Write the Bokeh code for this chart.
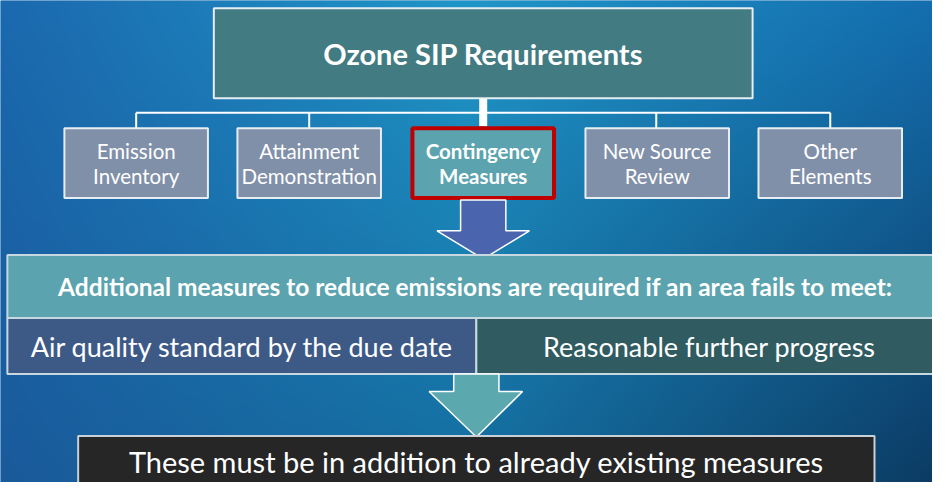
import numpy as np
from bokeh.plotting import figure
from bokeh.models import Range1d
from bokeh.core.properties import value
from bokeh.embed import file_html
from bokeh.resources import INLINE

W, H = 948, 498

# ---------------- content ----------------
title_text = "Ozone SIP Requirements"
child_line1 = ["Emission", "Attainment", "Contingency", "New Source", "Other"]
child_line2 = ["Inventory", "Demonstration", "Measures", "Review", "Elements"]
middle_text = "Additional measures to reduce emissions are required if an area fails to meet:"
row_texts = ["Air quality standard by the due date", "Reasonable further progress"]
bottom_text = "These must be in addition to already existing measures"

# ---------------- layout (reference pixel space) ----------------
title_box = dict(left=[217], right=[765], top=[8], bottom=[101])
child_left = [65, 241, 419, 595, 771]
child_right = [211, 387, 563, 741, 917]
child_top, child_bottom = 132, 204
tick_x = [138, 314, 667, 844]
bus_y = 116
mid_box = dict(left=[7], right=[950], top=[263], bottom=[328])
row_left = [7, 484]
row_right = [484, 950]
row_top, row_bottom = 328, 386
bottom_box = dict(left=[79], right=[889], top=[450], bottom=[505])

arrow1_x = [468, 514, 514, 538, 491, 444, 468]
arrow1_y = [206, 206, 238, 238, 267, 238, 238]
arrow2_x = [461, 507, 507, 531, 484, 436, 461]
arrow2_y = [386, 386, 404, 404, 451, 404, 404]

p = figure(width=932, height=482, x_range=Range1d(0, W), y_range=Range1d(H, 0),
           output_backend="svg", toolbar_location=None, min_border=0)
p.axis.visible = False
p.grid.visible = False
p.outline_line_color = None
p.background_fill_color = "#1a6fb0"

# ---------------- background gradient ----------------
ny, nx = 166, 316
yy, xx = np.mgrid[0:ny, 0:nx]
u = xx / (nx - 1)
v = yy / (ny - 1)
c_tl = np.array([27, 105, 175])
c_tc = np.array([32, 150, 200])
c_tr = np.array([20, 110, 175])
c_bl = np.array([26, 90, 155])
c_bc = np.array([20, 110, 160])
c_br = np.array([12, 60, 100])
def lerp3(a, b, c, t):
    t = t[..., None]
    left = a + (b - a) * np.clip(t * 2, 0, 1)
    right = b + (c - b) * np.clip(t * 2 - 1, 0, 1)
    return np.where(t < 0.5, left, right)
top = lerp3(c_tl, c_tc, c_tr, u)
bot = lerp3(c_bl, c_bc, c_br, u)
rgb = top + (bot - top) * v[..., None]
img = np.zeros((ny, nx), dtype=np.uint32)
view = img.view(dtype=np.uint8).reshape((ny, nx, 4))
view[..., 0] = rgb[..., 0].astype(np.uint8)
view[..., 1] = rgb[..., 1].astype(np.uint8)
view[..., 2] = rgb[..., 2].astype(np.uint8)
view[..., 3] = 255
p.image_rgba(image=[img], x=0, y=0, dw=W, dh=H)

border = "#e6edf3"
font = value("Lato")

# ---------------- connectors ----------------
p.segment(x0=[tick_x[0]], y0=[bus_y], x1=[tick_x[-1]], y1=[bus_y], line_color="white", line_width=2)
p.segment(x0=tick_x, y0=[bus_y] * 4, x1=tick_x, y1=[child_top] * 4, line_color="white", line_width=2)
p.segment(x0=[491], y0=[101], x1=[491], y1=[130], line_color="white", line_width=8)

# ---------------- boxes ----------------
p.quad(**title_box, fill_color="#437b83", line_color=border, line_width=2)
child_fill = ["#8190a9", "#8190a9", "#5ba3ae", "#8190a9", "#8190a9"]
child_line = [border, border, "#c00000", border, border]
child_lw = [2, 2, 4, 2, 2]
p.quad(left=child_left, right=child_right, top=[child_top] * 5, bottom=[child_bottom] * 5,
       fill_color=child_fill, line_color=child_line, line_width=child_lw)

p.patch(arrow1_x, arrow1_y, fill_color="#4a64ae", line_color="white", line_width=1.5)

p.quad(**mid_box, fill_color="#5ba3ae", line_color="#c8d8e0", line_width=2)
p.quad(left=row_left, right=row_right, top=[row_top] * 2, bottom=[row_bottom] * 2,
       fill_color=["#3d5a87", "#2f5b61"], line_color="#c8d8e0", line_width=2)

p.patch(arrow2_x, arrow2_y, fill_color="#5ba8af", line_color="white", line_width=1.5)
p.quad(**bottom_box, fill_color="#262626", line_color="#c8d0d8", line_width=2)

# ---------------- texts ----------------
p.text(x=[491], y=[55], text=[title_text], text_font=font, text_font_style="bold",
       text_font_size="29px", text_color="white", text_align="center", text_baseline="middle")
cx = [(a + b) / 2 for a, b in zip(child_left, child_right)]
styles = ["normal", "normal", "bold", "normal", "normal"]
for i in range(5):
    p.text(x=[cx[i]], y=[155], text=[child_line1[i]], text_font=font, text_font_style=styles[i],
           text_font_size="20.5px", text_color="white", text_align="center", text_baseline="middle")
    p.text(x=[cx[i]], y=[181], text=[child_line2[i]], text_font=font, text_font_style=styles[i],
           text_font_size="20.5px", text_color="white", text_align="center", text_baseline="middle")
p.text(x=[483], y=[296], text=[middle_text], text_font=font, text_font_style="bold",
       text_font_size="24.5px", text_color="white", text_align="center", text_baseline="middle")
p.text(x=[246, 721], y=[357, 357], text=row_texts, text_font=font,
       text_font_size="27px", text_color="white", text_align="center", text_baseline="middle")
p.text(x=[484], y=[476], text=[bottom_text], text_font=font,
       text_font_size="29px", text_color="white", text_align="center", text_baseline="middle")

open("out.html", "w").write(file_html(p, INLINE))
